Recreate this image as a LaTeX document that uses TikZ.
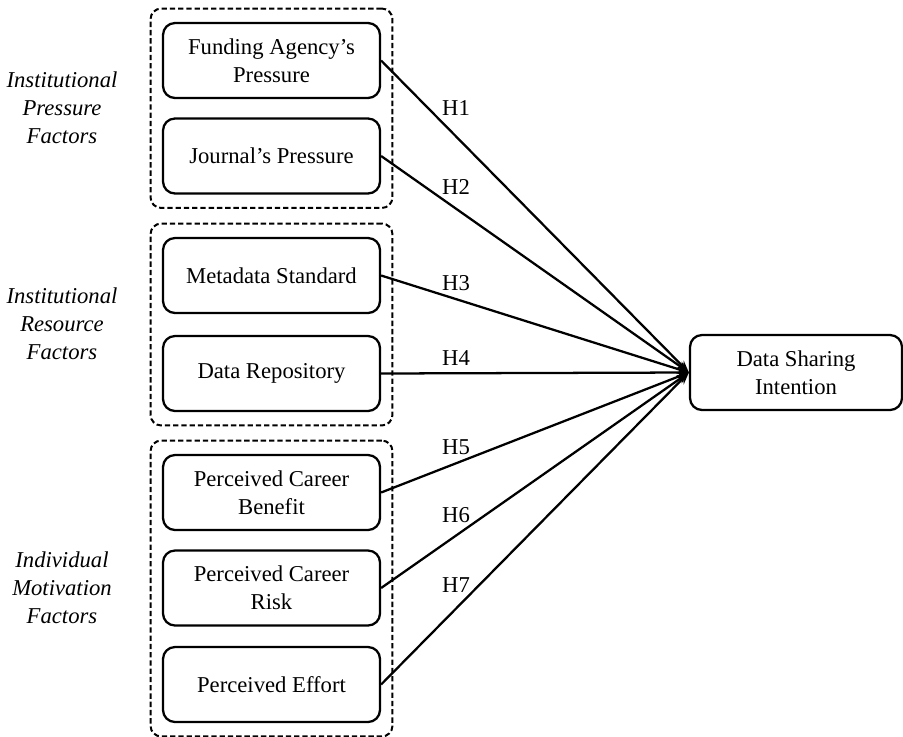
\documentclass[tikz,border=0pt]{standalone}
\usepackage{fontspec}
\setmainfont{Liberation Serif}
\usetikzlibrary{arrows.meta,fit}
\begin{document}
\begin{tikzpicture}[x=0.75pt,y=-0.75pt,
  every node/.style={font=\fontsize{17}{21}\selectfont},
  factor/.style={draw,line width=1.7pt,rounded corners=9pt,minimum width=162.75pt,minimum height=56.25pt,align=center,inner sep=2pt},
  target/.style={draw,line width=1.7pt,rounded corners=9pt,minimum width=159pt,minimum height=56.25pt,align=center,inner sep=2pt},
  group/.style={draw,line width=1.5pt,dash pattern=on 4pt off 2.2pt,rounded corners=8pt,inner xsep=8.5pt,inner ysep=10pt},
  sidelabel/.style={align=center,font=\fontsize{17}{21}\selectfont\itshape},
  hyp/.style={inner sep=1pt},
  link/.style={line width=1.7pt,-{Stealth[length=9pt,width=7pt]}}]
\useasboundingbox (0,0) rectangle (903,736);
% factor boxes
\node[factor] (fap) at (271.5,60.5) {Funding Agency's\\Pressure};
\node[factor] (jp)  at (271.5,156)  {Journal's Pressure};
\node[factor] (ms)  at (271.5,275.5) {Metadata Standard};
\node[factor] (dr)  at (271.5,373.5) {Data Repository};
\node[factor] (pcb) at (271.5,492.5) {Perceived Career\\Benefit};
\node[factor] (pcr) at (271.5,588)  {Perceived Career\\Risk};
\node[factor] (pe)  at (271.5,684.5) {Perceived Effort};
% target
\node[target] (dsi) at (796,372.5) {Data Sharing\\Intention};
% groups
\node[group,fit=(fap)(jp)] (g1) {};
\node[group,fit=(ms)(dr)] (g2) {};
\node[group,fit=(pcb)(pcr)(pe)] (g3) {};
% side labels
\node[sidelabel] (l1) at (62,108) {Institutional\\Pressure\\Factors};
\node[sidelabel] (l2) at (62,324) {Institutional\\Resource\\Factors};
\node[sidelabel] (l3) at (62,588) {Individual\\Motivation\\Factors};
% links
\draw[link] (fap.east) -- (dsi.west);
\draw[link] (jp.east) -- (dsi.west);
\draw[link] (ms.east) -- (dsi.west);
\draw[link] (dr.east) -- (dsi.west);
\draw[link] (pcb.east) -- (dsi.west);
\draw[link] (pcr.east) -- (dsi.west);
\draw[link] (pe.east) -- (dsi.west);
% hypothesis labels
\node[hyp] (h1) at (456,108) {H1};
\node[hyp] (h2) at (456,187) {H2};
\node[hyp] (h3) at (456,283) {H3};
\node[hyp] (h4) at (456,358) {H4};
\node[hyp] (h5) at (456,447) {H5};
\node[hyp] (h6) at (456,515) {H6};
\node[hyp] (h7) at (456,585) {H7};
\end{tikzpicture}
\end{document}
